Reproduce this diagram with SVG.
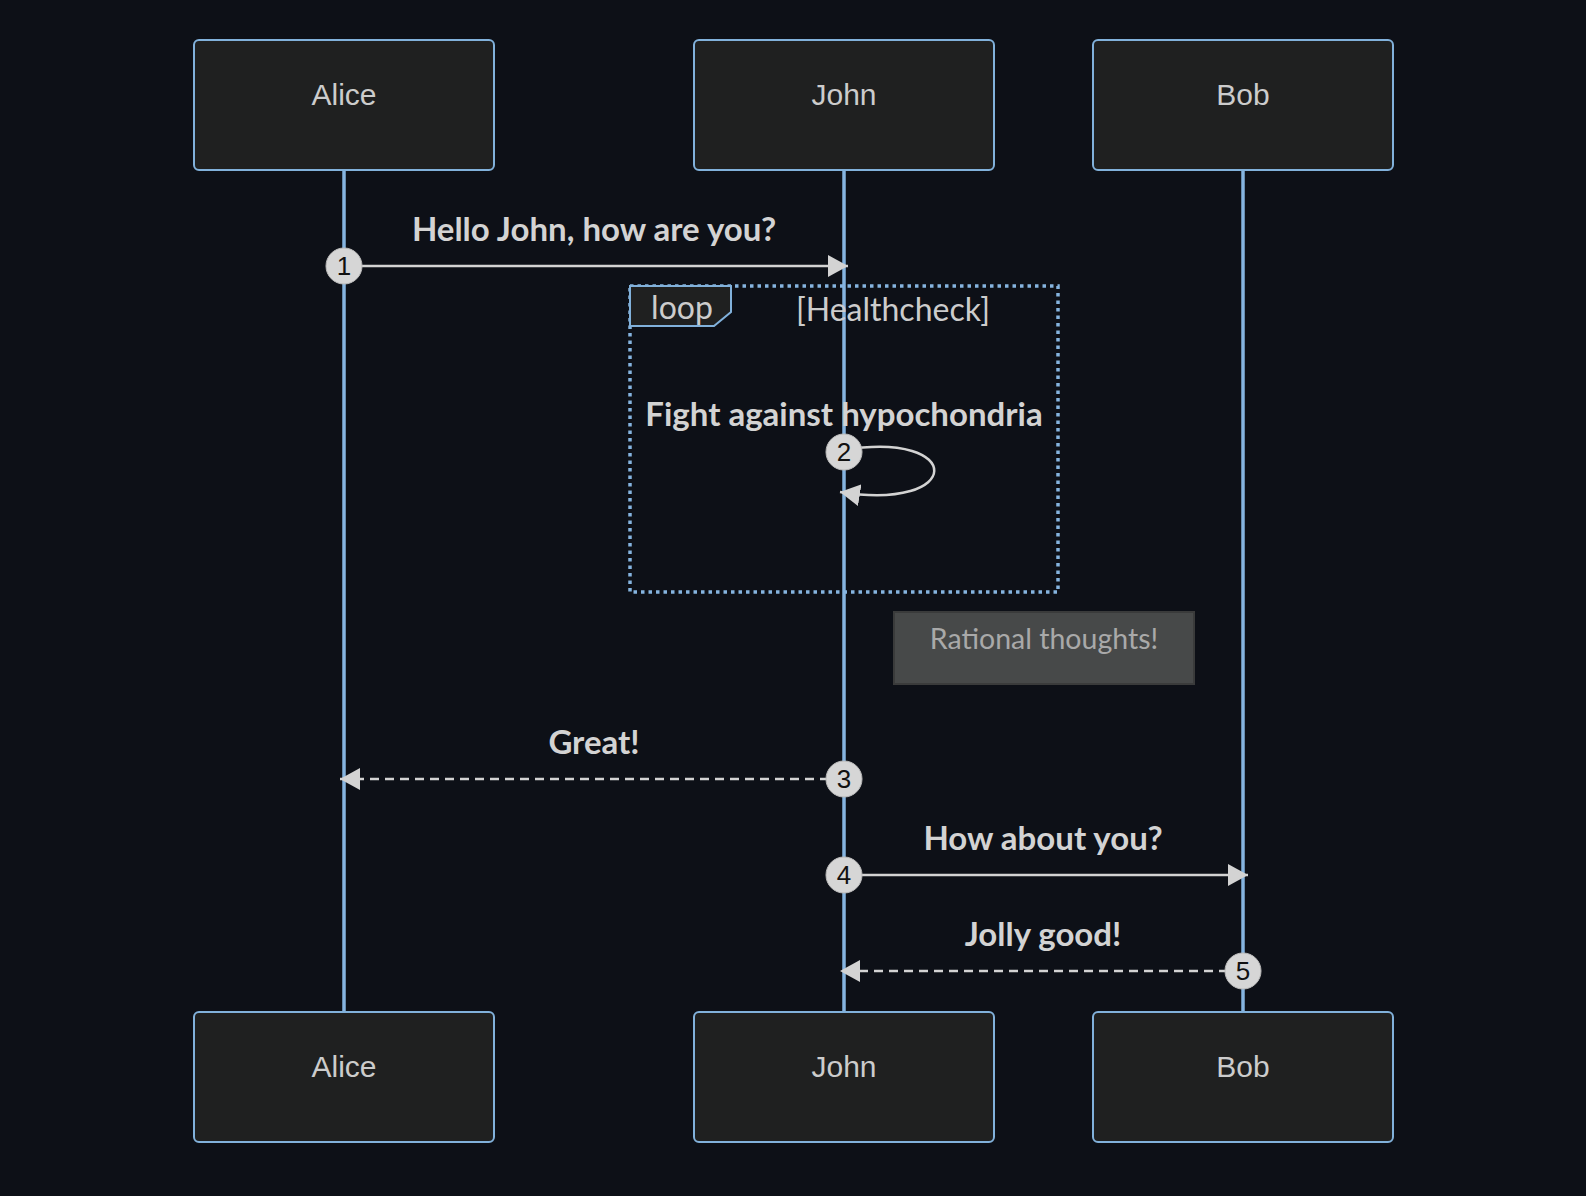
<svg xmlns="http://www.w3.org/2000/svg" width="1586" height="1196" viewBox="0 0 1586 1196">
<defs>
<style>
.actor{fill:#1f2020;stroke:#81b1db;stroke-width:2}
.atext{font-family:"Liberation Sans",Arial,sans-serif;font-size:30px;fill:#cccccc;text-anchor:middle}
.life{stroke:#85b4e0;stroke-width:3.5}
.msg{stroke:#d3d3d3;stroke-width:2.5;fill:none}
.dash{stroke-dasharray:9 6}
.mtext{font-family:Lato,"Open Sans",sans-serif;font-weight:bold;font-size:33px;fill:#d3d3d3;text-anchor:middle}
.num{fill:#d6d6d6;stroke:#bbbbbb;stroke-width:1}
.ntext{font-family:"Liberation Sans",Arial,sans-serif;font-size:26px;fill:#111111;text-anchor:middle}
.loopbox{fill:none;stroke:#85b4e0;stroke-width:3.5;stroke-dasharray:3.5 4}
.ltext{font-family:Lato,"Open Sans",sans-serif;font-size:32px;fill:#cccccc;text-anchor:middle}
</style>
<marker id="arrow" viewBox="0 0 20 22" refX="20" refY="11" markerWidth="20" markerHeight="22" markerUnits="userSpaceOnUse" orient="auto">
<path d="M0,0 L20,11 L0,22 Z" fill="#d3d3d3"/>
</marker>
</defs>
<rect width="1586" height="1196" fill="#0d1017"/>
<g id="lifelines">
<line class="life" x1="344" y1="170" x2="344" y2="1012"/>
<line class="life" x1="844" y1="170" x2="844" y2="1012"/>
<line class="life" x1="1243" y1="170" x2="1243" y2="1012"/>
</g>
<g id="actor-alice-top"><rect class="actor" x="194" y="40" width="300" height="130" rx="5"/><text class="atext" x="344" y="105">Alice</text></g>
<g id="actor-john-top"><rect class="actor" x="694" y="40" width="300" height="130" rx="5"/><text class="atext" x="844" y="105">John</text></g>
<g id="actor-bob-top"><rect class="actor" x="1093" y="40" width="300" height="130" rx="5"/><text class="atext" x="1243" y="105">Bob</text></g>
<g id="actor-alice-bottom"><rect class="actor" x="194" y="1012" width="300" height="130" rx="5"/><text class="atext" x="344" y="1077">Alice</text></g>
<g id="actor-john-bottom"><rect class="actor" x="694" y="1012" width="300" height="130" rx="5"/><text class="atext" x="844" y="1077">John</text></g>
<g id="actor-bob-bottom"><rect class="actor" x="1093" y="1012" width="300" height="130" rx="5"/><text class="atext" x="1243" y="1077">Bob</text></g>
<g id="loop">
<rect class="loopbox" x="630" y="286" width="428" height="306"/>
<polygon points="630,286 731,286 731,312 714,326 630,326" fill="#1f2020" stroke="#81b1db" stroke-width="2"/>
<text class="ltext" x="682" y="319">loop</text>
<text class="ltext" x="893" y="321">[Healthcheck]</text>
</g>
<g id="note">
<rect x="894" y="612" width="300" height="72" fill="#474949" stroke="#3a3b3b" stroke-width="2"/>
<text x="1044" y="649" font-family="Lato,'Open Sans',sans-serif" font-size="28.5" fill="#a9a9a9" text-anchor="middle">Rational thoughts!</text>
</g>
<g id="connectors">
<line class="msg" x1="344" y1="266" x2="848" y2="266" marker-end="url(#arrow)"/>
<path class="msg" d="M844,450 C965,430 965,512 840,492" marker-end="url(#arrow)"/>
<line class="msg dash" x1="844" y1="779" x2="340" y2="779" marker-end="url(#arrow)"/>
<line class="msg" x1="844" y1="875" x2="1248" y2="875" marker-end="url(#arrow)"/>
<line class="msg dash" x1="1243" y1="971" x2="840" y2="971" marker-end="url(#arrow)"/>
</g>
<g id="labels">
<text class="mtext" x="594" y="241">Hello John, how are you?</text>
<text class="mtext" x="844" y="426">Fight against hypochondria</text>
<text class="mtext" x="594" y="754">Great!</text>
<text class="mtext" x="1043" y="850">How about you?</text>
<text class="mtext" x="1043" y="946">Jolly good!</text>
</g>
<g id="numbers">
<circle class="num" cx="344" cy="266" r="18"/><text class="ntext" x="344" y="275">1</text>
<circle class="num" cx="844" cy="452" r="18"/><text class="ntext" x="844" y="461">2</text>
<circle class="num" cx="844" cy="779" r="18"/><text class="ntext" x="844" y="788">3</text>
<circle class="num" cx="844" cy="875" r="18"/><text class="ntext" x="844" y="884">4</text>
<circle class="num" cx="1243" cy="971" r="18"/><text class="ntext" x="1243" y="980">5</text>
</g>
</svg>
